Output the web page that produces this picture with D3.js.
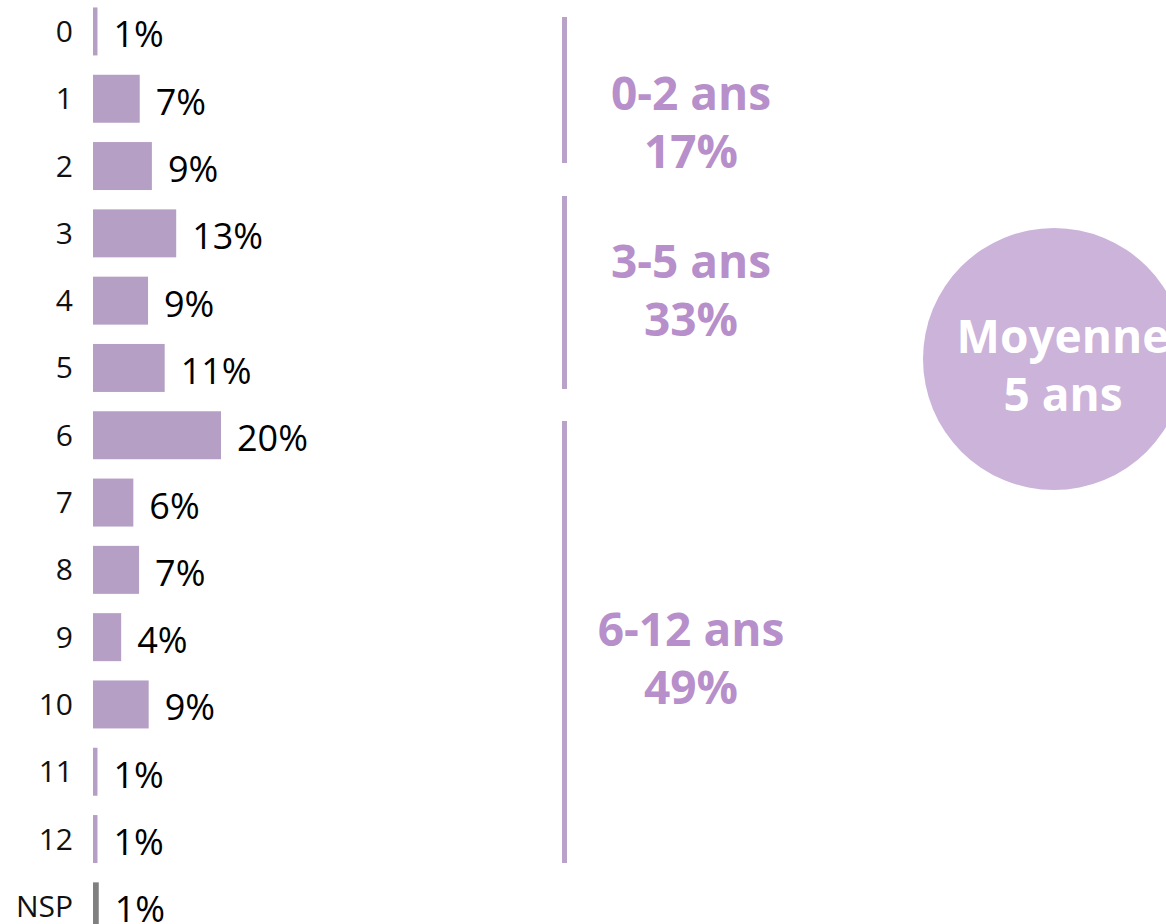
<!DOCTYPE html>
<html lang="fr">
<head>
<meta charset="utf-8">
<title>Ancienneté</title>
<script src="https://cdn.jsdelivr.net/npm/d3@7"></script>
<style>
  body { margin: 0; background: #fff; }
  svg { display: block; font-family: "Segoe UI", "Open Sans", sans-serif; }
</style>
</head>
<body>
<script>
// categories (years) and share of answers (%)
var categories = ["0", "1", "2", "3", "4", "5", "6", "7", "8", "9", "10", "11", "12", "NSP"];
var values = [0.7, 7.3, 9.2, 13, 8.6, 11.2, 20, 6.3, 7.2, 4.4, 8.7, 0.7, 0.7, 0.9];
var valueLabels = ["1%", "7%", "9%", "13%", "9%", "11%", "20%", "6%", "7%", "4%", "9%", "1%", "1%", "1%"];

// age groups on the right
var groupNames = ["0-2 ans", "3-5 ans", "6-12 ans"];
var groupShares = ["17%", "33%", "49%"];

// average bubble
var meanLines = ["Moyenne", "5 ans"];

var W = 1166, H = 924;
var barColor = "#b59fc4", nspColor = "#808080";
var groupColor = "#b78fca", lineColor = "#b9a2ca", bubbleColor = "#cbb3da";

var svg = d3.select("body").append("svg")
  .attr("width", W)
  .attr("height", H);

var y = d3.scaleBand()
  .domain(categories)
  .range([-2.2, 940])
  .paddingInner(0.287)
  .paddingOuter(0.1435);

var x = d3.scaleLinear()
  .domain([0, 20])
  .range([93, 221]);

var rows = categories.map(function(c, i) {
  return { cat: c, v: values[i], label: valueLabels[i] };
});

// bars
svg.selectAll("rect.bar")
  .data(rows)
  .enter().append("rect")
  .attr("class", "bar")
  .attr("x", x(0))
  .attr("y", function(d) { return y(d.cat); })
  .attr("width", function(d) { return x(d.v) - x(0); })
  .attr("height", y.bandwidth())
  .attr("fill", function(d) { return d.cat == "NSP" ? nspColor : barColor; });

// category labels
svg.selectAll("text.cat")
  .data(rows)
  .enter().append("text")
  .attr("class", "cat")
  .attr("x", 73)
  .attr("y", function(d) { return y(d.cat) + y.bandwidth() / 2 + 10.5; })
  .attr("text-anchor", "end")
  .attr("font-size", 30)
  .attr("fill", "#111")
  .text(function(d) { return d.cat; });

// value labels
svg.selectAll("text.val")
  .data(rows)
  .enter().append("text")
  .attr("class", "val")
  .attr("x", function(d) { return x(d.v) + 16; })
  .attr("y", function(d) { return y(d.cat) + y.bandwidth() / 2 + 16; })
  .attr("font-size", 36)
  .attr("fill", "#000")
  .text(function(d) { return d.label; });

// group brackets + labels
var lineX = 564.5;
var lineSpans = [[17, 163], [196, 389], [421, 863]];
var groupBaselines = [110, 278, 646];

groupNames.forEach(function(name, i) {
  svg.append("line")
    .attr("x1", lineX).attr("x2", lineX)
    .attr("y1", lineSpans[i][0]).attr("y2", lineSpans[i][1])
    .attr("stroke", lineColor)
    .attr("stroke-width", 5);

  var t = svg.append("text")
    .attr("x", 691)
    .attr("y", groupBaselines[i])
    .attr("text-anchor", "middle")
    .attr("font-size", 46)
    .attr("font-weight", "bold")
    .attr("fill", groupColor);
  t.append("tspan").attr("x", 691).text(name);
  t.append("tspan").attr("x", 691).attr("dy", 58).text(groupShares[i]);
});

// average bubble
svg.append("circle")
  .attr("cx", 1054)
  .attr("cy", 359)
  .attr("r", 131)
  .attr("fill", bubbleColor);

var m = svg.append("text")
  .attr("x", 1063)
  .attr("y", 353)
  .attr("text-anchor", "middle")
  .attr("font-size", 46)
  .attr("font-weight", "bold")
  .attr("fill", "#fff");
meanLines.forEach(function(s, i) {
  m.append("tspan").attr("x", 1063).attr("dy", i ? 58 : 0).text(s);
});
</script>
</body>
</html>
